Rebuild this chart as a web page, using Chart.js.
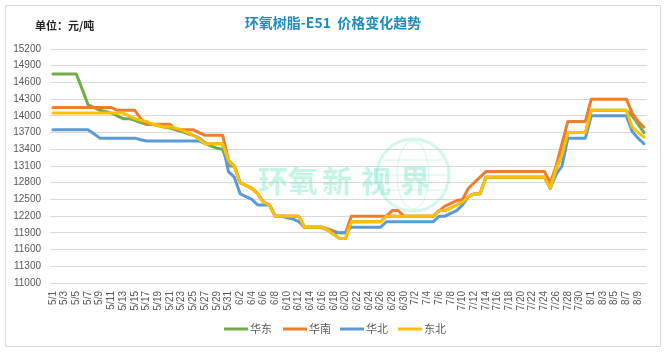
<!DOCTYPE html>
<html><head><meta charset="utf-8">
<script src="https://cdn.jsdelivr.net/npm/chart.js@4/dist/chart.umd.min.js"></script>
<style>html,body{margin:0;padding:0;background:#fff}#wrap{width:664px;height:352px;position:relative}</style>
</head><body><div id="wrap"><canvas id="c" width="664" height="352"></canvas></div>
<script>
const dates = [
'5/1','5/2','5/3','5/4','5/5','5/6','5/7','5/8','5/9','5/10','5/11','5/12','5/13','5/14','5/15','5/16','5/17','5/18','5/19','5/20','5/21','5/22','5/23','5/24','5/25','5/26','5/27','5/28','5/29','5/30','5/31',
'6/1','6/2','6/3','6/4','6/5','6/6','6/7','6/8','6/9','6/10','6/11','6/12','6/13','6/14','6/15','6/16','6/17','6/18','6/19','6/20','6/21','6/22','6/23','6/24','6/25','6/26','6/27','6/28','6/29','6/30',
'7/1','7/2','7/3','7/4','7/5','7/6','7/7','7/8','7/9','7/10','7/11','7/12','7/13','7/14','7/15','7/16','7/17','7/18','7/19','7/20','7/21','7/22','7/23','7/24','7/25','7/26','7/27','7/28','7/29','7/30','7/31',
'8/1','8/2','8/3','8/4','8/5','8/6','8/7','8/8','8/9','8/10'];

const seriesNames = ['华东','华南','华北','东北'];

const huadong = [
14750,14750,14750,14750,14750,14480,14200,14150,14100,14080,14050,14000,13950,13950,13920,13880,13850,13850,13820,13800,13780,13750,13720,13680,13650,13600,13520,13460,13420,13400,13100,
13100,12800,12750,12700,12600,12450,12400,12200,12200,12200,12200,12200,12000,12000,12000,12000,11950,11870,11800,11800,12100,12100,12100,12100,12100,12100,12200,12200,12200,12200,
12200,12200,12200,12200,12200,12300,12300,12350,12400,12450,12550,12600,12600,12900,12900,12900,12900,12900,12900,12900,12900,12900,12900,12900,12700,13050,13300,13700,13700,13700,13700,
14100,14100,14100,14100,14100,14100,14100,14000,13850,13700];

const huanan = [
14150,14150,14150,14150,14150,14150,14150,14150,14150,14150,14150,14100,14100,14100,14100,13950,13850,13850,13850,13850,13850,13750,13750,13750,13750,13700,13650,13650,13650,13650,13200,
13100,12800,12750,12700,12600,12450,12400,12200,12200,12200,12200,12200,12000,12000,12000,12000,11970,11930,11900,11900,12200,12200,12200,12200,12200,12200,12200,12300,12300,12200,
12200,12200,12200,12200,12200,12300,12380,12430,12480,12500,12700,12800,12900,13000,13000,13000,13000,13000,13000,13000,13000,13000,13000,13000,12800,13100,13500,13900,13900,13900,13900,
14300,14300,14300,14300,14300,14300,14300,14050,13900,13800];

const huabei = [
13750,13750,13750,13750,13750,13750,13750,13680,13600,13600,13600,13600,13600,13600,13600,13570,13550,13550,13550,13550,13550,13550,13550,13550,13550,13550,13500,13500,13500,13500,13000,
12900,12600,12550,12500,12400,12400,12400,12200,12200,12170,12150,12100,12000,12000,12000,12000,11950,11900,11900,11900,12000,12000,12000,12000,12000,12000,12100,12100,12100,12100,
12100,12100,12100,12100,12100,12200,12200,12250,12300,12400,12550,12600,12600,12900,12900,12900,12900,12900,12900,12900,12900,12900,12900,12900,12700,12950,13100,13600,13600,13600,13600,
14000,14000,14000,14000,14000,14000,14000,13720,13600,13500];

const dongbei = [
14050,14050,14050,14050,14050,14050,14050,14050,14050,14050,14050,14050,14050,14000,13950,13920,13900,13850,13830,13800,13800,13780,13750,13700,13650,13580,13500,13500,13500,13500,13200,
13100,12800,12750,12700,12600,12450,12400,12200,12200,12200,12200,12200,12000,12000,12000,12000,11950,11870,11800,11800,12100,12100,12100,12100,12100,12100,12200,12200,12200,12200,
12200,12200,12200,12200,12200,12300,12300,12350,12400,12450,12550,12600,12600,12900,12900,12900,12900,12900,12900,12900,12900,12900,12900,12900,12700,13050,13300,13700,13700,13700,13700,
14100,14100,14100,14100,14100,14100,14100,13800,13700,13620];

const yTickMin = 11000, yTickMax = 15200, yTickStep = 300;
const colors = ['#70AD47','#ED7D31','#5B9BD5','#FFC000'];

const decor = {
  id:'decor',
  beforeDraw(chart){
    const ctx = chart.ctx;
    ctx.save();
    ctx.fillStyle = '#ffffff';
    ctx.fillRect(0,0,chart.width,chart.height);
    ctx.strokeStyle = '#d9d9d9';
    ctx.lineWidth = 1;
    ctx.strokeRect(5.5,5.5,655,341);
    ctx.fillStyle = '#1f8dbb';
    ctx.font = 'bold 14px "Noto Sans CJK SC"';
    ctx.textAlign = 'center';
    ctx.textBaseline = 'middle';
    ctx.fillText('环氧树脂-E51  价格变化趋势', 333, 23);
    ctx.fillStyle = '#262626';
    ctx.font = 'bold 11px "Noto Sans CJK SC"';
    ctx.textAlign = 'left';
    ctx.fillText('单位：元/吨', 35, 26);
    ctx.restore();
  },
  beforeDatasetsDraw(chart){
    const ctx = chart.ctx;
    ctx.save();
    ctx.strokeStyle = 'rgba(110,225,195,0.3)';
    ctx.lineWidth = 3;
    ctx.beginPath(); ctx.arc(413,175,36,0,Math.PI*2); ctx.stroke();
    ctx.lineWidth = 1;
    ctx.beginPath(); ctx.ellipse(413,175,16,34,0,0,Math.PI*2); ctx.stroke();
    ctx.beginPath(); ctx.moveTo(378,175); ctx.lineTo(448,175); ctx.stroke();
    ctx.beginPath(); ctx.moveTo(383,160); ctx.lineTo(443,160); ctx.moveTo(383,190); ctx.lineTo(443,190); ctx.stroke();
    ctx.fillStyle = 'rgba(100,225,190,0.38)';
    ctx.font = 'bold 30px "Noto Sans CJK SC"';
    ctx.textAlign = 'center';
    ctx.textBaseline = 'middle';
    const wm = ['环','氧','新','视','界'];
    const xs = [273,303,337,376,415];
    wm.forEach((ch,k)=>ctx.fillText(ch, xs[k], 181));
    ctx.restore();
  },
  afterDraw(chart){
    const ctx = chart.ctx;
    ctx.save();
    const xs = [224,283,340,398];
    ctx.font = '11px "Noto Sans CJK SC"';
    ctx.textBaseline = 'middle';
    ctx.textAlign = 'left';
    chart.data.datasets.forEach((ds,k)=>{
      ctx.strokeStyle = ds.borderColor;
      ctx.lineWidth = 3;
      ctx.beginPath(); ctx.moveTo(xs[k],329); ctx.lineTo(xs[k]+24,329); ctx.stroke();
      ctx.fillStyle = '#595959';
      ctx.fillText(ds.label, xs[k]+26, 329);
    });
    ctx.restore();
  }
};

const mk = (label, data, k, order) => ({
  label, data, borderColor: colors[k], backgroundColor: colors[k],
  borderWidth: 3, pointRadius: 0, tension: 0, fill: false, order,
  borderJoinStyle: 'round', borderCapStyle: 'round'
});

new Chart(document.getElementById('c'), {
  type: 'line',
  data: {
    labels: dates,
    datasets: [
      mk(seriesNames[0], huadong, 0, 4),
      mk(seriesNames[1], huanan, 1, 3),
      mk(seriesNames[2], huabei, 2, 2),
      mk(seriesNames[3], dongbei, 3, 1)
    ]
  },
  options: {
    responsive: false,
    devicePixelRatio: 1,
    animation: false,
    layout: { padding: { left: 6, right: 16, top: 49, bottom: 37 } },
    plugins: { legend: { display: false }, title: { display: false }, tooltip: { enabled: false } },
    scales: {
      x: {
        type: 'category',
        offset: true,
        grid: { display: false, drawTicks: false },
        border: { display: false },
        afterFit(s){ s.height = 32; },
        ticks: {
          autoSkip: false, maxRotation: 90, minRotation: 90, padding: 8,
          color: '#595959', font: { family: '"Liberation Sans", Arial', size: 10 },
          callback(v, i){ return i % 2 === 0 ? dates[i] : ''; }
        }
      },
      y: {
        min: yTickMin, max: yTickMax,
        afterFit(s){ s.width = 44; },
        grid: { color: '#d9d9d9', lineWidth: 1, drawTicks: false },
        border: { display: false },
        ticks: {
          stepSize: yTickStep, padding: 9, color: '#595959',
          font: { family: '"Liberation Sans", Arial', size: 10 },
          callback(v){ return String(v); }
        }
      }
    }
  },
  plugins: [decor]
});
</script>
</body></html>
